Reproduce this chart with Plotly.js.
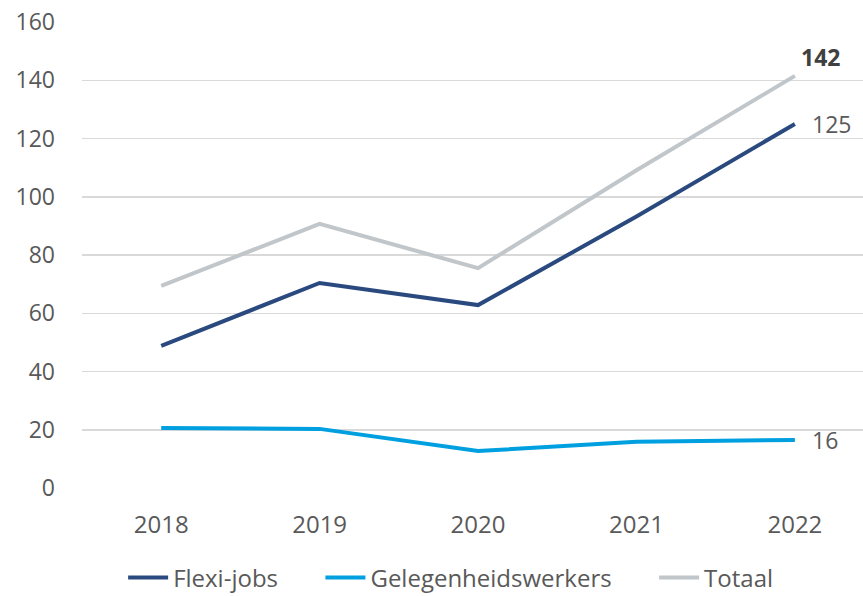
<!DOCTYPE html>
<html>
<head>
<meta charset="utf-8">
<script src="https://cdn.plot.ly/plotly-3.0.1.min.js"></script>
<style>
  html, body { margin: 0; padding: 0; background: #fff; }
  #chart { width: 863px; height: 596px; }
</style>
</head>
<body>
<div id="chart"></div>
<script>
const years = ['2018', '2019', '2020', '2021', '2022'];
const flexiJobs = [48.8, 70.4, 62.8, 93.2, 125];
const gelegenheidswerkers = [20.6, 20.3, 12.7, 15.9, 16.5];
const totaal = [69.4, 90.7, 75.5, 109.1, 141.5];
const endLabels = ['142', '125', '16'];

const FONT = '"Open Sans", "Noto Sans", sans-serif';
const TEXT = '#595959';
const PAD = '\u00a0\u00a0\u00a0\u00a0\u00a0\u00a0';

const traces = [
    { name: 'Flexi-jobs' + PAD, y: flexiJobs, color: '#2a4a7f' },
    { name: 'Gelegenheidswerkers' + PAD, y: gelegenheidswerkers, color: '#00a0e0' },
    { name: 'Totaal', y: totaal, color: '#c0c6c9' }
].map(s => ({
    x: years,
    y: s.y,
    name: s.name,
    type: 'scatter',
    mode: 'lines',
    line: { color: s.color, width: 4 },
    hoverinfo: 'skip'
}));

const last = years.length - 1;
const annotations = [
    { y: totaal[last], text: '<b>' + endLabels[0] + '</b>', color: '#404040', yshift: 19, xshift: 4 },
    { y: flexiJobs[last], text: endLabels[1], color: TEXT, yshift: 0, xshift: 15 },
    { y: gelegenheidswerkers[last], text: endLabels[2], color: TEXT, yshift: 0, xshift: 15 }
].map(a => ({
    x: last,
    y: a.y,
    xref: 'x',
    yref: 'y',
    text: a.text,
    showarrow: false,
    xanchor: 'left',
    yanchor: 'middle',
    xshift: a.xshift,
    yshift: a.yshift,
    font: { family: FONT, size: 23, color: a.color }
}));

Plotly.newPlot('chart', traces, {
    width: 863,
    height: 596,
    margin: { t: 22, r: 0, b: 108, l: 82, autoexpand: false },
    paper_bgcolor: '#fff',
    plot_bgcolor: '#fff',
    font: { family: FONT, size: 24, color: TEXT },
    showlegend: true,
    legend: {
        orientation: 'h',
        x: 0.472,
        xanchor: 'center',
        y: -0.193,
        yanchor: 'middle',
        font: { family: FONT, size: 24, color: TEXT },
        itemwidth: 40
    },
    xaxis: {
        type: 'category',
        range: [-0.5, 4.43],
        showgrid: false,
        zeroline: false,
        showline: false,
        ticks: '',
        tickfont: { family: FONT, size: 24, color: TEXT },
        ticklabelstandoff: 20
    },
    yaxis: {
        range: [0, 160],
        dtick: 20,
        tick0: 0,
        showgrid: true,
        gridcolor: '#d9d9d9',
        gridwidth: 1.5,
        zeroline: false,
        showline: false,
        ticks: '',
        tickfont: { family: FONT, size: 23, color: TEXT },
        ticklabelstandoff: 26
    },
    annotations: annotations
}, { displayModeBar: false, staticPlot: true });
</script>
</body>
</html>
